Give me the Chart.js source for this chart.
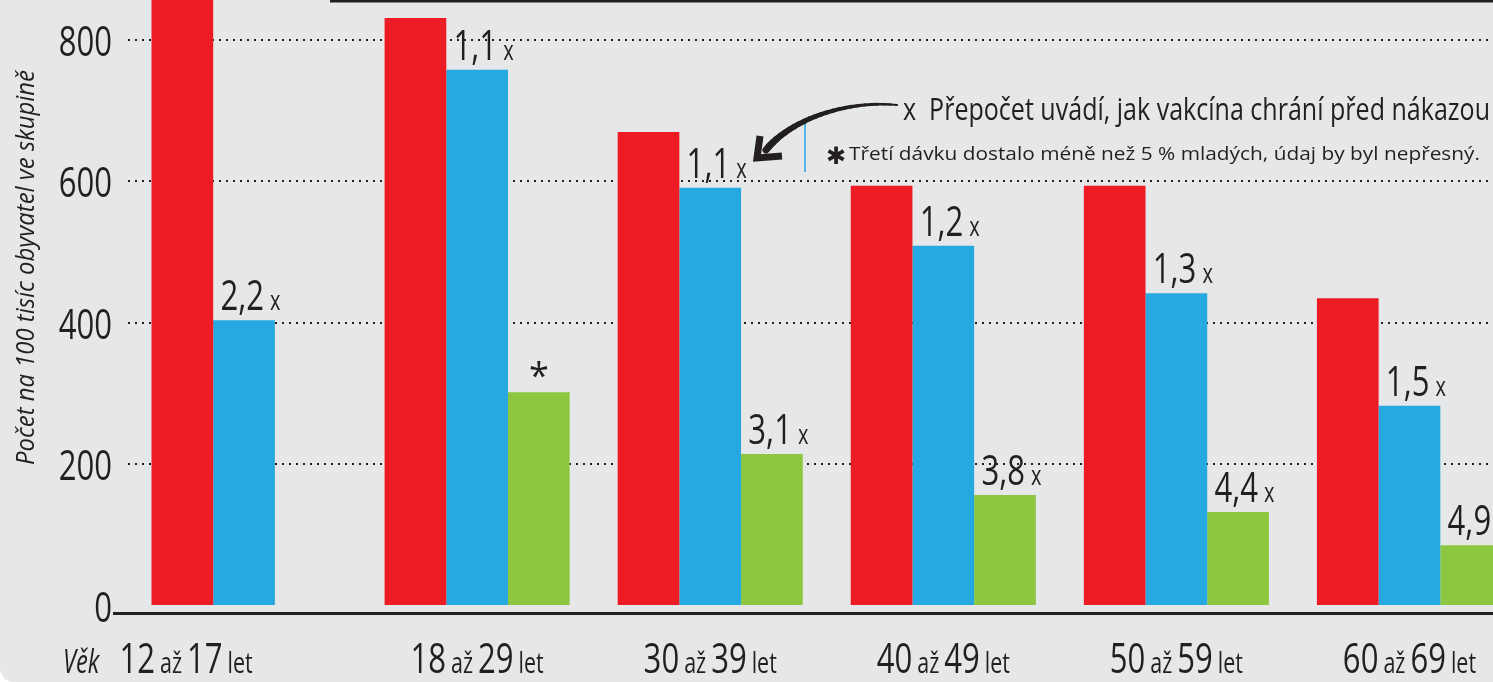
<!DOCTYPE html>
<html>
<head>
<meta charset="utf-8">
<script src="https://cdn.jsdelivr.net/npm/chart.js@4"></script>
<style>
  html, body { margin: 0; padding: 0; background: #ffffff; overflow: hidden; }
  #wrap { width: 1493px; height: 682px; overflow: hidden; background: #e6e7e8; border-bottom-left-radius: 14px; }
  canvas { display: block; }
</style>
</head>
<body>
<div id="wrap"><canvas id="c" width="1526" height="682"></canvas></div>
<script>
// věkové skupiny
const ageFrom = [12, 18, 30, 40, 50, 60];
const ageTo = [17, 29, 39, 49, 59, 69];
const categories = ageFrom.map((a, i) => a + " až " + ageTo[i] + " let");

// počet nakažených na 100 tisíc obyvatel ve skupině
const unvaccinated = [950, 831, 670, 594, 594, 435];
const twoDoses = [404, 758, 591, 509, 442, 283];
const threeDoses = [null, 302, 215, 157, 133, 86];

// přepočet ochrany (x-krát)
const twoDoseRatio = ["2,2", "1,1", "1,1", "1,2", "1,3", "1,5"];
const threeDoseRatio = [null, "*", "3,1", "3,8", "4,4", "4,9"];

const yTicks = [0, 200, 400, 600, 800];

const INK = "#231f20";
const FONT = "'Open Sans', sans-serif";
const SX = 0.74; // zúžení písma (condensed)

function txt(ctx, s, x, y, font, align, sx) {
    ctx.save();
    ctx.font = font;
    ctx.textAlign = align;
    ctx.translate(x, y);
    ctx.scale(sx, 1);
    ctx.fillText(s, 0, 0);
    ctx.restore();
}

function tw(ctx, s, font, sx) {
    ctx.font = font;
    return ctx.measureText(s).width * sx;
}

function fitText(ctx, s, x, y, font, width) {
    txt(ctx, s, x, y, font, "left", width / tw(ctx, s, font, 1));
}

function drawRatio(ctx, el, text) {
    if (text === "*") {
        txt(ctx, "*", el.x, el.y - 4, "36px " + FONT, "center", 1);
        return;
    }
    txt(ctx, text, el.x + 20, el.y - 10, "42px " + FONT, "right", SX);
    txt(ctx, "x", el.x + 26, el.y - 10, "27px " + FONT, "left", SX);
}

function bez(p0, p1, p2, p3, t) {
    const u = 1 - t;
    return u * u * u * p0 + 3 * u * u * t * p1 + 3 * u * t * t * p2 + t * t * t * p3;
}

const deco = {
    id: "deco",
    afterDatasetsDraw(chart) {
        const ctx = chart.ctx;
        const xs = chart.scales.x, ys = chart.scales.y;
        ctx.save();
        ctx.fillStyle = INK;
        ctx.textBaseline = "alphabetic";

        // osa a horní linka
        ctx.fillRect(113, ys.getPixelForValue(0) + 6, chart.width, 3);
        ctx.fillRect(330, 0, chart.width, 2.5);

        // hodnoty osy y
        yTicks.forEach(v => {
            txt(ctx, String(v), 112, ys.getPixelForValue(v) + 16, "42px " + FONT, "right", SX);
        });

        // popisky nad sloupci
        const m1 = chart.getDatasetMeta(1), m2 = chart.getDatasetMeta(2);
        twoDoseRatio.forEach((t, i) => { if (t) drawRatio(ctx, m1.data[i], t); });
        threeDoseRatio.forEach((t, i) => { if (t) drawRatio(ctx, m2.data[i], t); });

        // popisky osy x
        ageFrom.forEach((a, i) => {
            const parts = [
                [String(a), "42px " + FONT],
                ["až", "29px " + FONT],
                [String(ageTo[i]), "42px " + FONT],
                ["let", "29px " + FONT]
            ];
            const gap = 5;
            let w = gap * (parts.length - 1);
            parts.forEach(p => { w += tw(ctx, p[0], p[1], SX); });
            const cx = xs.getPixelForValue(i) + (i === 0 ? -58 : 0);
            let px = cx - w / 2;
            parts.forEach(p => {
                txt(ctx, p[0], px, 673, p[1], "left", SX);
                px += tw(ctx, p[0], p[1], SX) + gap;
            });
        });

        txt(ctx, "Věk", 63, 673, "italic 32px " + FONT, "left", SX);

        // popisek osy y
        ctx.save();
        ctx.translate(34, 465);
        ctx.rotate(-Math.PI / 2);
        fitText(ctx, "Počet na 100 tisíc obyvatel ve skupině", 0, 0, "italic 25px " + FONT, 395);
        ctx.restore();

        // poznámky
        fitText(ctx, "x  Přepočet uvádí, jak vakcína chrání před nákazou", 903, 120, "31px " + FONT, 587);
        txt(ctx, "\u2731", 826, 164, "24px 'DejaVu Sans', sans-serif", "left", 1);
        fitText(ctx, "Třetí dávku dostalo méně než 5 % mladých, údaj by byl nepřesný.", 849, 160, "19px " + FONT, 631);

        ctx.strokeStyle = "#25a9e0";
        ctx.lineWidth = 1.5;
        ctx.beginPath();
        ctx.moveTo(805, 118);
        ctx.lineTo(805, 172);
        ctx.stroke();

        // šipka (zesilující se tah)
        ctx.strokeStyle = INK;
        ctx.lineCap = "round";
        const P = [[897, 105], [845, 100], [790, 120], [766, 150]];
        const n = 24;
        for (let k = 0; k < n; k++) {
            const t0 = k / n, t1 = (k + 1) / n;
            ctx.lineWidth = 2 + 5 * t1;
            ctx.beginPath();
            ctx.moveTo(bez(P[0][0], P[1][0], P[2][0], P[3][0], t0), bez(P[0][1], P[1][1], P[2][1], P[3][1], t0));
            ctx.lineTo(bez(P[0][0], P[1][0], P[2][0], P[3][0], t1), bez(P[0][1], P[1][1], P[2][1], P[3][1], t1));
            ctx.stroke();
        }
        ctx.lineWidth = 7;
        ctx.lineCap = "butt";
        ctx.lineJoin = "miter";
        ctx.beginPath();
        ctx.moveTo(760, 136);
        ctx.lineTo(757, 158);
        ctx.lineTo(782, 156);
        ctx.stroke();

        ctx.restore();
    }
};

new Chart(document.getElementById("c"), {
    type: "bar",
    data: {
        labels: categories,
        datasets: [{
            label: "Neočkovaní",
            data: unvaccinated,
            backgroundColor: "#ed1c24"
        }, {
            label: "Dvě dávky",
            data: twoDoses,
            backgroundColor: "#25a9e0"
        }, {
            label: "Tři dávky",
            data: threeDoses,
            backgroundColor: "#8dc63f"
        }]
    },
    options: {
        responsive: false,
        animation: false,
        events: [],
        layout: { padding: { bottom: 76 } },
        datasets: { bar: { barPercentage: 1, categoryPercentage: 0.794 } },
        plugins: { legend: { display: false }, tooltip: { enabled: false } },
        scales: {
            x: { display: false },
            y: {
                min: 0,
                max: 856.5,
                afterBuildTicks(scale) {
                    scale.ticks = yTicks.map(v => ({ value: v }));
                },
                afterFit(scale) {
                    scale.width = 127.5;
                    scale.paddingTop = 0;
                    scale.paddingBottom = 0;
                },
                border: { display: false, dash: [2, 5] },
                grid: {
                    drawTicks: false,
                    lineWidth: 2,
                    color: c => c.tick && c.tick.value === 0 ? "rgba(0,0,0,0)" : INK
                },
                ticks: { display: false }
            }
        }
    },
    plugins: [deco]
});
</script>
</body>
</html>
